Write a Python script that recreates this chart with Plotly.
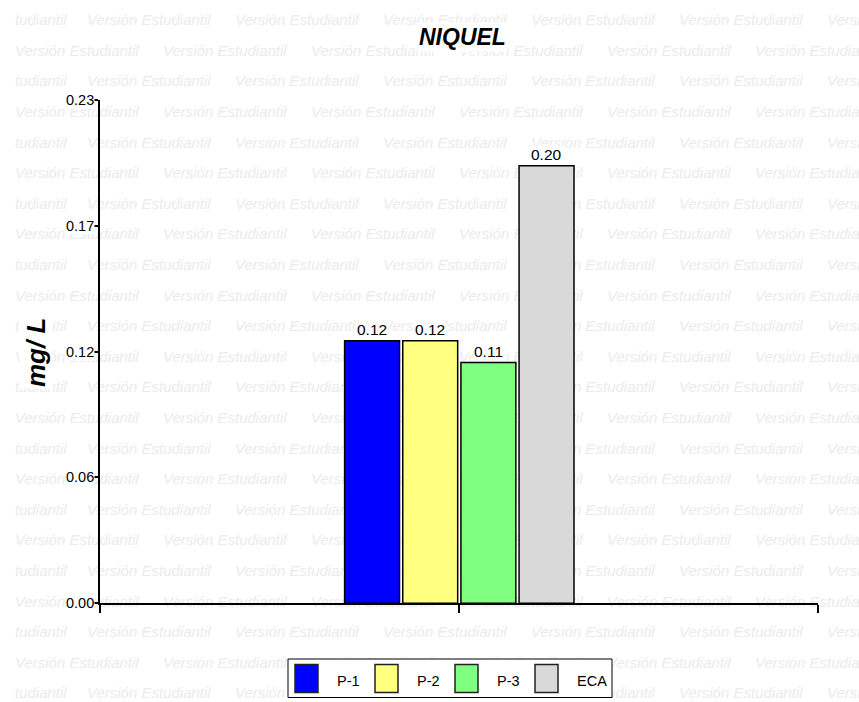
import plotly.graph_objects as go

# ---- data -------------------------------------------------------------
series = ["P-1", "P-2", "P-3", "ECA"]
values = [0.12, 0.12, 0.11, 0.20]
colors = ["#0000FF", "#FFFF80", "#80FF80", "#D9D9D9"]
y_tickvals = [0.0, 0.0575, 0.115, 0.1725, 0.23]
y_ticktext = ["0.00", "0.06", "0.12", "0.17", "0.23"]
title_text = "NIQUEL"
y_title = "mg/ L"
watermark = "Versión Estudiantil"

# ---- page geometry (pixels) ------------------------------------------
W, H = 859, 702
L, R, T, B = 100.3, 818.3, 100.0, 603.3
X_RANGE = [0, 2]
Y_RANGE = [0, 0.23]
GROUP_X = 1
SLOT = 0.162
BAR_W = 0.153
FONT = "Liberation Sans, Arial, sans-serif"

fig = go.Figure()

# background watermark, laid out in page pixels on a full-page subplot
wx, wy, wt = [], [], []
for r in range(23):
    base = 26.7 + r * 30.6
    if r % 2 == 0:
        items = [(15, "tudiantil")] + [(87 + 148 * k, watermark) for k in range(6)]
    else:
        items = [(15 + 148 * k, watermark) for k in range(6)]
    for x, t in items:
        wx.append(x)
        wy.append(base - 5.25)
        wt.append(t)

fig.add_trace(go.Scatter(
    x=wx, y=wy, text=wt, mode="text", textposition="middle right",
    textfont=dict(family=FONT, size=15, color="#ebebeb", style="italic"),
    hoverinfo="skip", showlegend=False, xaxis="x", yaxis="y",
))

# bars
for i, (name, v, c) in enumerate(zip(series, values, colors)):
    off = (i - 2) * SLOT + (SLOT - BAR_W) / 2
    fig.add_trace(go.Bar(
        x=[GROUP_X], y=[v], name=name, width=BAR_W, offset=off,
        marker=dict(color=c, line=dict(color="black", width=1.5)),
        xaxis="x2", yaxis="y2", showlegend=False, hoverinfo="skip",
    ))
    fig.add_annotation(
        x=GROUP_X + off + BAR_W / 2, y=v, xref="x2", yref="y2",
        text=f"{v:.2f}", showarrow=False, yanchor="bottom", yshift=2,
        font=dict(family=FONT, size=15.5, color="black"),
        bgcolor="white", borderpad=0,
    )

# y tick labels with an opaque backing
for tv, tt in zip(y_tickvals, y_ticktext):
    fig.add_annotation(
        x=(L - 5.5) / W, y=tv, xref="paper", yref="y2", xanchor="right",
        yanchor="middle", text=tt, showarrow=False,
        font=dict(family=FONT, size=14.5, color="black"),
        bgcolor="white", borderpad=0,
    )

# title and axis title
fig.add_annotation(
    x=462 / W, y=1 - 36.5 / H, xref="paper", yref="paper", text=title_text,
    showarrow=False, xanchor="center", yanchor="middle",
    font=dict(family=FONT, size=23, color="black", weight="bold", style="italic"),
    bgcolor="white", borderpad=1,
)
fig.add_annotation(
    x=36 / W, y=1 - 353 / H, xref="paper", yref="paper", text=y_title,
    showarrow=False, textangle=-90, xanchor="center", yanchor="middle",
    font=dict(family=FONT, size=26, color="black", weight="bold", style="italic"),
    bgcolor="white", borderpad=1,
)

# legend box drawn in page pixels
shapes = [dict(type="rect", xref="x", yref="y", x0=288, x1=612, y0=659, y1=697.5,
               line=dict(color="black", width=1), fillcolor="white", layer="above")]
for i, (name, c) in enumerate(zip(series, colors)):
    sx = 295 + 80 * i
    shapes.append(dict(type="rect", xref="x", yref="y", x0=sx, x1=sx + 23,
                       y0=664.5, y1=692.5, line=dict(color="#222222", width=1.5),
                       fillcolor=c, layer="above"))
    fig.add_annotation(
        x=sx + 40, y=680.5, xref="x", yref="y", text=name, showarrow=False,
        xanchor="left", yanchor="middle",
        font=dict(family=FONT, size=14.5, color="black"),
    )

fig.update_layout(
    width=W, height=H,
    margin=dict(l=0, r=0, t=0, b=0),
    paper_bgcolor="white", plot_bgcolor="rgba(0,0,0,0)",
    barmode="overlay", showlegend=False, shapes=shapes,
    xaxis=dict(domain=[0, 1], range=[0, W], visible=False, fixedrange=True),
    yaxis=dict(domain=[0, 1], range=[H, 0], visible=False, fixedrange=True),
    xaxis2=dict(
        domain=[L / W, R / W], range=X_RANGE, anchor="y2",
        showline=True, linecolor="black", linewidth=2,
        ticks="outside", tickvals=[0, 1, 2], ticklen=8, tickwidth=2,
        tickcolor="black", showticklabels=False, showgrid=False, zeroline=False,
        fixedrange=True,
    ),
    yaxis2=dict(
        domain=[1 - B / H, 1 - T / H], range=Y_RANGE, anchor="x2",
        showline=True, linecolor="black", linewidth=2,
        ticks="outside", tickvals=y_tickvals, ticklen=4, tickwidth=2,
        tickcolor="black", showticklabels=False, showgrid=False, zeroline=False,
        fixedrange=True,
    ),
)

fig.write_html("out.html")
